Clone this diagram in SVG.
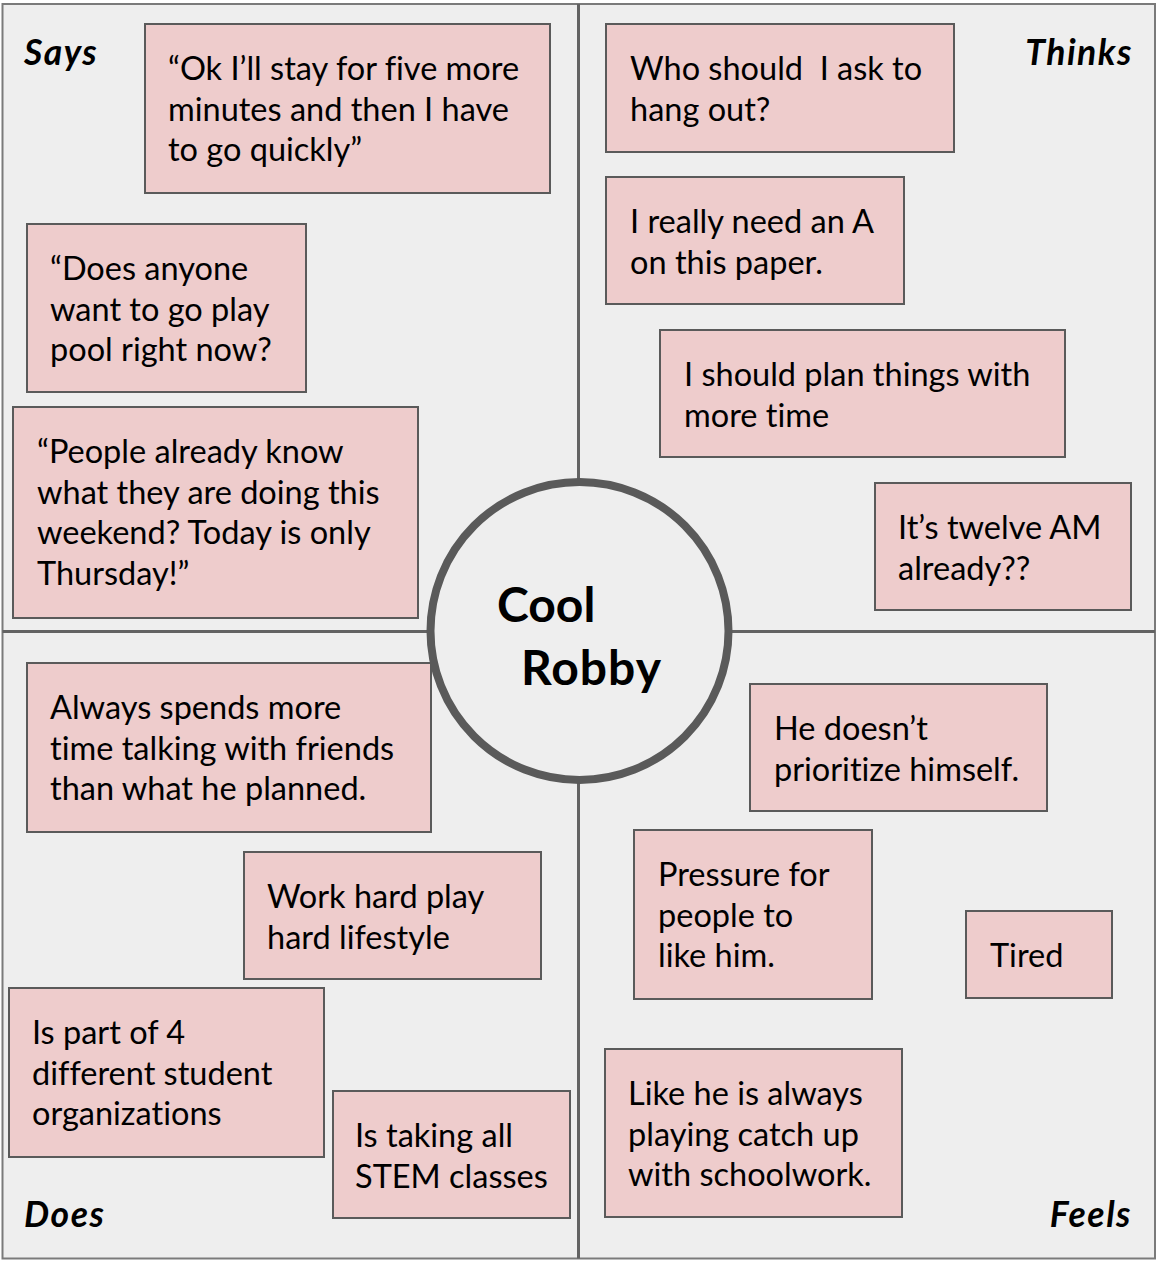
<svg xmlns="http://www.w3.org/2000/svg" width="1158" height="1266" viewBox="0 0 1158 1266">
  <style>
    .bg { fill: #ffffff; }
    .frame { fill: #eeeeee; stroke: #7a7a7a; stroke-width: 2; }
    .divider { stroke: #626262; stroke-width: 3; fill: none; }
    .note rect { fill: #eecccc; stroke: #5a5a5a; stroke-width: 2; }
    .note text { font-family: Lato, "Liberation Sans", sans-serif; font-size: 32.5px; font-variant-ligatures: none; fill: #000000; }
    .label { font-family: Lato, "Liberation Sans", sans-serif; font-size: 35.5px; letter-spacing: 1.5px; font-weight: bold; font-style: italic; fill: #000000; }
    .hub circle { fill: #eeeeee; stroke: #5a5a5a; stroke-width: 8; }
    .hub text { font-family: Lato, "Liberation Sans", sans-serif; font-size: 48px; font-weight: bold; fill: #000000; }
  </style>

  <rect class="bg" x="0" y="0" width="1158" height="1266"/>

  <!-- quadrant frame and dividers -->
  <g id="frame">
    <rect class="frame" x="2.5" y="4" width="1152.5" height="1254.5"/>
  </g>
  <g id="connectors">
    <line class="divider" x1="578.5" y1="4" x2="578.5" y2="1258.5"/>
    <line class="divider" x1="2.5" y1="631.5" x2="1155" y2="631.5"/>
  </g>

  <!-- quadrant headings -->
  <g id="labels">
    <text class="label" x="24" y="65">Says</text>
    <text class="label" x="1133" y="65" text-anchor="end">Thinks</text>
    <text class="label" x="24" y="1227">Does</text>
    <text class="label" x="1132" y="1227" text-anchor="end">Feels</text>
  </g>

  <!-- centre persona -->
  <g id="persona" class="hub">
    <circle cx="579.5" cy="631" r="149"/>
    <text x="497" y="622">Cool</text>
    <text x="521" y="685" textLength="140">Robby</text>
  </g>

  <!-- Says -->
  <g id="says-1" class="note">
    <rect x="145" y="24" width="405" height="169"/>
    <text x="168" y="80">“Ok I’ll stay for five more</text>
    <text x="168" y="120.5">minutes and then I have</text>
    <text x="168" y="161">to go quickly”</text>
  </g>
  <g id="says-2" class="note">
    <rect x="27" y="224" width="279" height="168"/>
    <text x="50" y="280">“Does anyone</text>
    <text x="50" y="320.5">want to go play</text>
    <text x="50" y="361">pool right now?</text>
  </g>
  <g id="says-3" class="note">
    <rect x="13" y="407" width="405" height="211"/>
    <text x="37" y="463">“People already know</text>
    <text x="37" y="503.5">what they are doing this</text>
    <text x="37" y="544">weekend? Today is only</text>
    <text x="37" y="584.5">Thursday!”</text>
  </g>

  <!-- Thinks -->
  <g id="thinks-1" class="note">
    <rect x="606" y="24" width="348" height="128"/>
    <text x="630" y="80" xml:space="preserve">Who should  I ask to</text>
    <text x="630" y="120.5">hang out?</text>
  </g>
  <g id="thinks-2" class="note">
    <rect x="606" y="177" width="298" height="127"/>
    <text x="630" y="233">I really need an A</text>
    <text x="630" y="273.5">on this paper.</text>
  </g>
  <g id="thinks-3" class="note">
    <rect x="660" y="330" width="405" height="127"/>
    <text x="684" y="386">I should plan things with</text>
    <text x="684" y="426.5">more time</text>
  </g>
  <g id="thinks-4" class="note">
    <rect x="875" y="483" width="256" height="127"/>
    <text x="898" y="539">It’s twelve AM</text>
    <text x="898" y="579.5">already??</text>
  </g>

  <!-- Does -->
  <g id="does-1" class="note">
    <rect x="27" y="663" width="404" height="169"/>
    <text x="50" y="719">Always spends more</text>
    <text x="50" y="759.5">time talking with friends</text>
    <text x="50" y="800">than what he planned.</text>
  </g>
  <g id="does-2" class="note">
    <rect x="244" y="852" width="297" height="127"/>
    <text x="267" y="908">Work hard play</text>
    <text x="267" y="948.5">hard lifestyle</text>
  </g>
  <g id="does-3" class="note">
    <rect x="9" y="988" width="315" height="169"/>
    <text x="32" y="1044">Is part of 4</text>
    <text x="32" y="1084.5">different student</text>
    <text x="32" y="1125">organizations</text>
  </g>
  <g id="does-4" class="note">
    <rect x="333" y="1091" width="237" height="127"/>
    <text x="355" y="1147">Is taking all</text>
    <text x="355" y="1187.5">STEM classes</text>
  </g>

  <!-- Feels -->
  <g id="feels-1" class="note">
    <rect x="750" y="684" width="297" height="127"/>
    <text x="774" y="740">He doesn’t</text>
    <text x="774" y="780.5">prioritize himself.</text>
  </g>
  <g id="feels-2" class="note">
    <rect x="634" y="830" width="238" height="169"/>
    <text x="658" y="886">Pressure for</text>
    <text x="658" y="926.5">people to</text>
    <text x="658" y="967">like him.</text>
  </g>
  <g id="feels-3" class="note">
    <rect x="966" y="911" width="146" height="87"/>
    <text x="990" y="967">Tired</text>
  </g>
  <g id="feels-4" class="note">
    <rect x="605" y="1049" width="297" height="168"/>
    <text x="628" y="1105">Like he is always</text>
    <text x="628" y="1145.5">playing catch up</text>
    <text x="628" y="1186">with schoolwork.</text>
  </g>
</svg>
